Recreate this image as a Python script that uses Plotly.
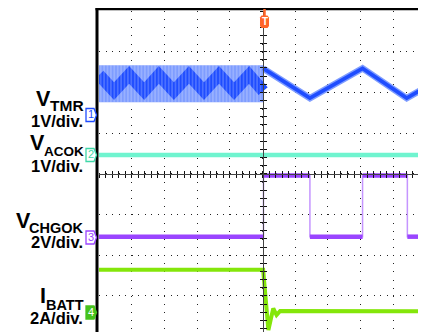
import plotly.graph_objects as go

# ---------------- data (screen divisions: x 0..10, y 0..8 from bottom) ----------------
# V_TMR before trigger: dense oscillation band and its darker aliased zig-zag
tmr_band_x = [0.0, 5.02]
tmr_band_top = [6.67, 6.67]
tmr_band_bot = [5.76, 5.76]
tmr_zig_x = [0.0, 0.46, 0.92, 1.38, 1.83, 2.29, 2.75, 3.21, 3.67, 4.13, 4.59, 5.02]
tmr_zig_y = [6.43, 6.03, 6.43, 6.03, 6.43, 6.03, 6.43, 6.03, 6.43, 6.03, 6.43, 6.03]
# V_TMR after trigger: slow triangle
tmr_x = [5.02, 6.45, 8.06, 9.41, 10.0]
tmr_y = [6.59, 5.86, 6.59, 5.86, 6.13]
# V_ACOK: flat
acok_x = [0.0, 10.0]
acok_y = [4.46, 4.46]
# V_CHGOK: square wave (edge times and levels)
chg_x = [0.0, 5.03, 6.45, 8.06, 9.43, 10.0]
chg_y = [2.455, 3.96, 2.455, 3.96, 2.455, 2.455]
# I_BATT
batt_x = [0.0, 5.02, 5.10, 5.18, 5.26, 5.33, 5.43, 5.54, 10.0]
batt_y = [1.64, 1.64, 0.90, 0.16, 0.45, 0.69, 0.53, 0.63, 0.62]

ch_names = ["TMR", "ACOK", "CHGOK", "BATT"]
ch_main = ["V", "V", "V", "I"]
ch_scale = ["1V/div.", "1V/div.", "2V/div.", "2A/div."]
ch_num = ["1", "2", "3", "4"]

BLUE = "#1f4dff"
BLUE_L = "#7f9dff"
TEAL = "#70f4cf"
PURPLE = "#9a45ff"
PURPLE_L = "#c595ff"
GREEN = "#84e60a"
ORANGE = "#ff6428"

OFF = 8                      # page body margin
SW, SH = 426, 332            # screen size
L, T = 99, 11                # plot area top-left on screen
PW, PH = SW - L, SH - T
YMIN, YMAX = 0.113, 8.0


def px(xp):
    return (xp - L) / PW


def py(yp):
    return (SH - yp) / PH


fig = go.Figure()

# band of the fast oscillation
fig.add_trace(go.Scatter(x=tmr_band_x, y=tmr_band_bot, mode="lines",
                         line=dict(width=0, color=BLUE_L), hoverinfo="skip"))
fig.add_trace(go.Scatter(x=tmr_band_x, y=tmr_band_top, mode="lines",
                         line=dict(width=0, color=BLUE_L), fill="tonexty",
                         fillcolor=BLUE_L, hoverinfo="skip"))
fig.add_trace(go.Scatter(x=tmr_zig_x, y=tmr_zig_y, mode="lines",
                         line=dict(width=12, color=BLUE), hoverinfo="skip"))
fig.add_trace(go.Scatter(x=tmr_band_x, y=tmr_band_bot, mode="lines",
                         line=dict(width=0, color=BLUE_L), hoverinfo="skip"))
fig.add_trace(go.Scatter(x=tmr_band_x, y=tmr_band_top, mode="lines",
                         line=dict(width=0, color=BLUE_L), fill="tonexty",
                         fillcolor="rgba(0,0,0,0)",
                         fillpattern=dict(shape="|", size=3.4, solidity=0.28,
                                          fgcolor="rgba(255,255,255,0.7)",
                                          bgcolor="rgba(0,0,0,0)"),
                         hoverinfo="skip"))
# slow triangle
fig.add_trace(go.Scatter(x=tmr_x, y=tmr_y, mode="lines",
                         line=dict(width=6.5, color=BLUE_L), hoverinfo="skip"))
fig.add_trace(go.Scatter(x=tmr_x, y=tmr_y, mode="lines",
                         line=dict(width=3.6, color=BLUE), hoverinfo="skip"))
# ACOK
fig.add_trace(go.Scatter(x=acok_x, y=acok_y, mode="lines",
                         line=dict(width=4.5, color=TEAL), hoverinfo="skip"))
# CHGOK thin edges + thick levels
fig.add_trace(go.Scatter(x=chg_x, y=chg_y, mode="lines", line_shape="hv",
                         line=dict(width=1.5, color=PURPLE_L), hoverinfo="skip"))
seg_x, seg_y = [], []
for i in range(len(chg_x) - 1):
    seg_x += [chg_x[i], chg_x[i + 1], None]
    seg_y += [chg_y[i], chg_y[i], None]
fig.add_trace(go.Scatter(x=seg_x, y=seg_y, mode="lines",
                         line=dict(width=4.5, color=PURPLE), hoverinfo="skip"))
# IBATT
fig.add_trace(go.Scatter(x=batt_x, y=batt_y, mode="lines",
                         line=dict(width=4, color=GREEN), hoverinfo="skip"))

# empty traces to create centre-line tick axes
for xa, ya in [("x2", "y"), ("x3", "y"), ("x", "y2"), ("x", "y3")]:
    fig.add_trace(go.Scatter(x=[], y=[], xaxis=xa, yaxis=ya, hoverinfo="skip"))

grid_common = dict(showticklabels=False, zeroline=False, ticks="",
                   showline=False, gridcolor="#222", gridwidth=1)
fig.update_layout(
    width=SW - OFF, height=SH - OFF,
    margin=dict(l=L - OFF, r=0, t=T - OFF, b=0, pad=0),
    paper_bgcolor="white", plot_bgcolor="white", showlegend=False,
    xaxis=dict(range=[0, 10], dtick=1, tick0=0, griddash="1px,7.14px", **grid_common),
    yaxis=dict(range=[YMIN, YMAX], dtick=1, tick0=0, griddash="1px,5.54px", **grid_common),
)
cen_y_pos = (4 - YMIN) / (YMAX - YMIN)
for name, tk in [("xaxis2", "outside"), ("xaxis3", "inside")]:
    fig.layout[name] = dict(overlaying="x", anchor="free", position=cen_y_pos, side="bottom",
                            range=[0, 10], dtick=0.2, tick0=0, ticks=tk, ticklen=3,
                            tickwidth=1, tickcolor="#111", showline=True,
                            linecolor="#444", linewidth=1, showgrid=False,
                            zeroline=False, showticklabels=False)
for name, tk in [("yaxis2", "outside"), ("yaxis3", "inside")]:
    fig.layout[name] = dict(overlaying="y", anchor="free", position=0.5, side="left",
                            range=[YMIN, YMAX], dtick=0.2, tick0=0, ticks=tk, ticklen=3,
                            tickwidth=1, tickcolor="#111", showline=True,
                            linecolor="#444", linewidth=1, showgrid=False,
                            zeroline=False, showticklabels=False)

shapes = []
# thick left and top borders
shapes.append(dict(type="line", xref="paper", yref="paper", x0=px(97), x1=px(97),
                   y0=py(7), y1=py(SH + 2), line=dict(color="black", width=3)))
shapes.append(dict(type="line", xref="paper", yref="paper", x0=px(95.5), x1=px(SW + 2),
                   y0=py(9), y1=py(9), line=dict(color="black", width=2.4)))
# trigger marker
shapes.append(dict(type="line", xref="paper", yref="paper", x0=px(264.5), x1=px(264.5),
                   y0=py(9), y1=py(16), line=dict(color=ORANGE, width=2.5)))


def path(pts):
    return "M " + " L ".join(f"{px(a):.5f},{py(b):.5f}" for a, b in pts) + " Z"


shapes.append(dict(type="path", xref="paper", yref="paper",
                   path=path([(261.5, 15.5), (267.5, 15.5), (269, 17.5), (269, 26),
                              (267.5, 28), (261.5, 28), (260, 26), (260, 17.5)]),
                   fillcolor=ORANGE, line=dict(width=0)))
# green level arrow on right edge
shapes.append(dict(type="path", xref="paper", yref="paper",
                   path=path([(426, 291.5), (420, 295.5), (426, 299.5)]),
                   fillcolor="#5cc800", line=dict(width=0)))
# channel boxes
box_cols = [BLUE, "#3fd8a8", PURPLE, "#46c21c"]
box_fill = ["white", "white", "white", "#46c21c"]
box_top = [108.5, 148.5, 231, 306]
for i in range(4):
    t = box_top[i]
    shapes.append(dict(type="path", xref="paper", yref="paper",
                       path=path([(86, t), (94, t), (96.5, t + 6.5), (94, t + 13), (86, t + 13)]),
                       fillcolor=box_fill[i], line=dict(color=box_cols[i], width=1.3)))
fig.update_layout(shapes=shapes)

anns = []
FONT = "Liberation Sans"
# approximate advance widths (em) of Liberation Sans Bold capitals for placing the main letter
CAPW = {"T": 0.611, "M": 0.833, "R": 0.722, "A": 0.722, "C": 0.722, "O": 0.778,
        "K": 0.722, "H": 0.722, "G": 0.778, "B": 0.722}


def ann(text, right, base, size, color="black", weight="bold", anchor="right"):
    anns.append(dict(text=text, xref="paper", yref="paper", x=px(right),
                     y=py(base + 0.212 * size), xanchor=anchor, yanchor="bottom",
                     showarrow=False, borderpad=0,
                     font=dict(family=FONT, size=size, color=color, weight=weight)))


sub_size = [15.5, 13.5, 14.5, 14.5]
main_base = [107.5, 151.5, 229, 304.5]
sub_base = [111.5, 157.5, 234, 311]
scale_base = [128, 173, 249, 324.5]
for i in range(4):
    sub_w = sum(CAPW[c] for c in ch_names[i]) * sub_size[i]
    ann(ch_main[i], 85 - sub_w + 0.5, main_base[i], 21.5)
    ann(ch_names[i], 85, sub_base[i], sub_size[i])
    ann(ch_scale[i], 83.5, scale_base[i], 16.5)
    ann(ch_num[i], 91, box_top[i] + 10.5, 11,
        color="white" if i == 3 else box_cols[i], weight="normal", anchor="center")
ann("T", 264.5, 26, 10, color="white", anchor="center")
fig.update_layout(annotations=anns)

fig.write_html("out.html")
